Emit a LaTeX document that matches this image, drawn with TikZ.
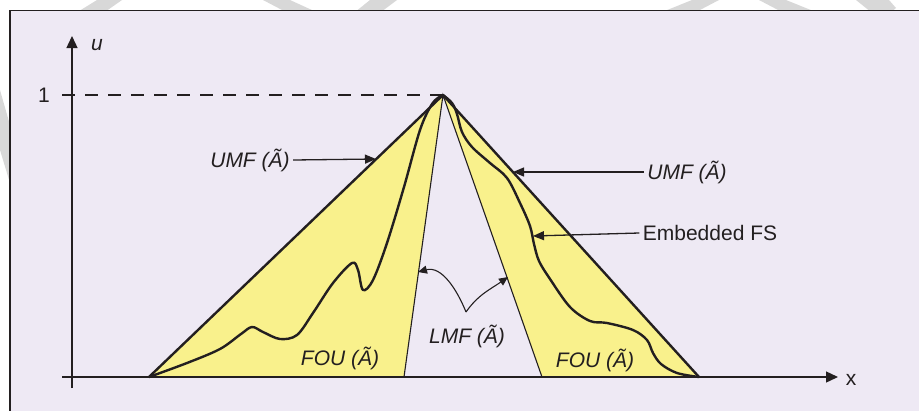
\documentclass[tikz,border=0pt]{standalone}
\usepackage{fontspec}
\setmainfont{Liberation Sans}
\usetikzlibrary{arrows.meta,calc}
\definecolor{bgl}{RGB}{238,233,244}
\definecolor{foucol}{RGB}{249,241,140}
\definecolor{ink}{RGB}{35,31,32}
\definecolor{wmark}{RGB}{216,216,216}
\tikzset{
  axisline/.style={ink, line width=1.4pt, -{Triangle[length=12pt,width=11pt]}},
  umfline/.style={ink, line width=2.4pt, line join=round, line cap=round},
  lmfline/.style={ink, line width=1.1pt},
  embline/.style={ink, line width=2.4pt, line join=round, line cap=round},
  ptr/.style={ink, line width=1.3pt, -{Triangle[length=11pt,width=9pt]}},
  curveptr/.style={ink, line width=1.1pt, -{Triangle[length=9pt,width=8pt]}},
  lab/.style={text=ink, font=\fontsize{21}{25}\selectfont\itshape},
  labup/.style={text=ink, font=\fontsize{21}{25}\selectfont},
}
\begin{document}
\begin{tikzpicture}[x=1pt,y=-1pt]
\useasboundingbox (0,0) rectangle (919,410);
% faint marks in the margin
\fill[wmark] (97,0) -- (122,0) -- (107,10.5) -- (80,10.5) -- cycle;
\fill[wmark] (263,0) -- (290,0) -- (313,10.5) -- (283,10.5) -- cycle;
\fill[wmark] (370,0) -- (397,0) -- (383,10.5) -- (357,10.5) -- cycle;
\fill[wmark] (692,0) -- (719,0) -- (699,10.5) -- (666,10.5) -- cycle;
\fill[wmark] (759,0) -- (786,0) -- (812,10.5) -- (779,10.5) -- cycle;
\fill[wmark] (856,0) -- (889,0) -- (896,8) -- (893,10.5) -- (869,10.5) -- cycle;
\fill[wmark] (0,90) -- (10,125) -- (10,183) -- (0,150) -- cycle;
% frame
\draw[ink, line width=1.2pt, fill=bgl] (10,10.5) rectangle (940,430);
% key points
\coordinate (pk) at (443,95);
\coordinate (uLb) at (149,377);
\coordinate (uRb) at (699,377);
\coordinate (lLb) at (404,377);
\coordinate (lRb) at (542,377);
% FOU regions
\fill[foucol] (uLb) -- (pk) -- (lLb) -- cycle;
\fill[foucol] (pk) -- (uRb) -- (lRb) -- cycle;
% axes
\coordinate (ybot) at (72,388);
\coordinate (ytop) at (72,36);
\coordinate (xlft) at (62,377);
\coordinate (xrgt) at (838,377);
\draw[axisline] (ybot) -- (ytop);
\draw[axisline] (xlft) -- (xrgt);
\node[labup] (xlab) at (851,380) {x};
\node[lab] (ulab) at (97,45) {u};
\node[labup] (one) at (44,95) {1};
\coordinate (dsh) at (62,95);
\draw[ink, line width=1.3pt, dash pattern=on 13pt off 10pt] (dsh) -- (pk);
% LMF
\draw[lmfline] (lLb) -- (pk) -- (lRb);
% UMF
\draw[umfline] (uLb) -- (pk) -- (uRb);
% embedded fuzzy sets
\draw[embline] plot[smooth, tension=0.55] coordinates {
 (149,377) (187,363) (220,349) (241,334) (252,327) (263,332) (280,339)
 (297,335) (313,313) (333,283) (352,263) (358,270) (363,290) (373,280)
 (387,243) (404,187) (420,130) (432,104) (441,96)};
\draw[embline] plot[smooth, tension=0.55] coordinates {
 (443,95) (452,103) (457,114) (462,132) (472,147) (490,163) (507,178)
 (520,203) (530,226) (534,244) (539,261) (550,279) (570,307) (590,321)
 (607,323) (633,330) (647,340) (653,353) (661,364) (677,373) (699,377)};
% labels and pointers
\coordinate (tL) at (376,159);
\coordinate (tR) at (513,172);
\coordinate (tE) at (533,236);
\node[lab] (umfL) at (250,160) {UMF (Ã)};
\node[lab] (umfR) at (687,172) {UMF (Ã)};
\node[labup] (emb) at (710,233) {Embedded FS};
\draw[ptr] (umfL.east) -- (tL);
\draw[ptr] (umfR.west) -- (tR);
\draw[ptr] (emb.west) -- (tE);
\coordinate (lv) at (466,312);
\coordinate (lmL) at (418,272);
\coordinate (lmR) at (508,277);
\node[lab] (lmf) at (467,336) {LMF (Ã)};
\draw[curveptr] (lv) to[out=112,in=15] (lmL);
\draw[curveptr] (lv) to[out=55,in=215] (lmR);
\node[lab] (fouL) at (340,358) {FOU (Ã)};
\node[lab] (fouR) at (595,360) {FOU (Ã)};
\end{tikzpicture}
\end{document}
